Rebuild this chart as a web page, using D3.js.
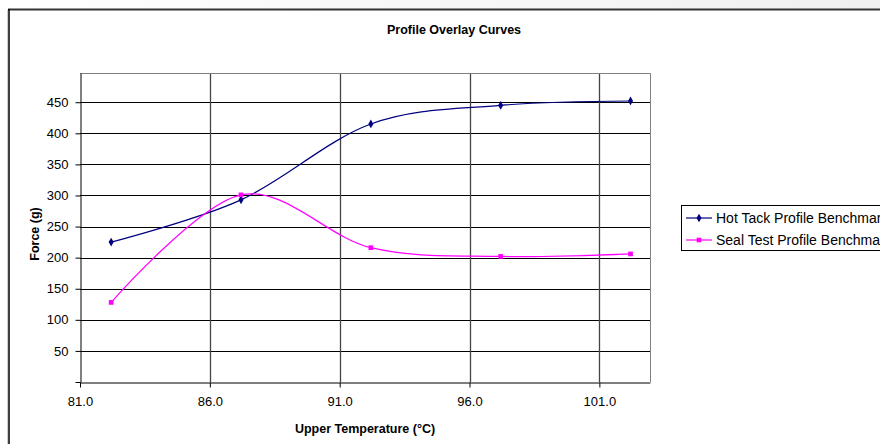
<!DOCTYPE html>
<html>
<head>
<meta charset="utf-8">
<script src="https://cdn.jsdelivr.net/npm/d3@7"></script>
<style>
  body { margin: 0; background: #fff; }
  text { font-family: "Liberation Sans", Arial, sans-serif; }
</style>
</head>
<body>
<svg id="chart"></svg>
<script>
// values
const temps = [82.2, 87.2, 92.2, 97.2, 102.2];
const hotTack = [225, 293, 415, 445, 452];
const sealTest = [128, 301, 216, 202, 206];
const xTicks = [81, 86, 91, 96, 101];
const yTicks = [50, 100, 150, 200, 250, 300, 350, 400, 450];
const seriesNames = ["Hot Tack Profile Benchmark", "Seal Test Profile Benchmark"];

const W = 880, H = 444;
const svg = d3.select("#chart").attr("width", W).attr("height", H);

// faint grey strip above the chart frame
const grad = svg.append("defs").append("linearGradient").attr("id", "topfade");
grad.append("stop").attr("offset", "0%").attr("stop-color", "#ffffff");
grad.append("stop").attr("offset", "100%").attr("stop-color", "#f0f0f0");
svg.append("rect").attr("x", 0).attr("y", 0).attr("width", W).attr("height", 9)
  .attr("fill", "url(#topfade)");

// chart frame
svg.append("line").attr("x1", 8).attr("x2", W).attr("y1", 9.5).attr("y2", 9.5)
  .attr("stroke", "#333").attr("stroke-width", 2);
svg.append("line").attr("x1", 9).attr("x2", 9).attr("y1", 9).attr("y2", H)
  .attr("stroke", "#000").attr("stroke-width", 1.5);
svg.append("line").attr("x1", 7.5).attr("x2", 7.5).attr("y1", 10).attr("y2", H)
  .attr("stroke", "#ccc").attr("stroke-width", 1);

// plot area
const pLeft = 80, pRight = 650, pTop = 73, pBottom = 382;
const x = d3.scaleLinear().domain([81, 102.95]).range([pLeft, pRight]);
const y = d3.scaleLinear().domain([0, 497]).range([pBottom, pTop]);

// grid
svg.append("g").selectAll("line").data(yTicks).join("line")
  .attr("x1", pLeft).attr("x2", pRight)
  .attr("y1", d => Math.round(y(d)) + 0.5).attr("y2", d => Math.round(y(d)) + 0.5)
  .attr("stroke", "#000").attr("stroke-width", 1);
svg.append("g").selectAll("line").data(xTicks.slice(1)).join("line")
  .attr("x1", d => Math.round(x(d)) + 0.5).attr("x2", d => Math.round(x(d)) + 0.5)
  .attr("y1", pTop).attr("y2", pBottom)
  .attr("stroke", "#444").attr("stroke-width", 1.3);

// plot border (top/right)
svg.append("path")
  .attr("d", `M${pLeft},${pTop + 0.5}H${pRight + 0.5}V${pBottom}`)
  .attr("fill", "none").attr("stroke", "#808080").attr("stroke-width", 1);

// axes
const xAxis = d3.axisBottom(x).tickValues(xTicks).tickFormat(d3.format(".1f"))
  .tickSize(5).tickSizeOuter(0);
const gx = svg.append("g").attr("transform", `translate(0,${pBottom + 0.5})`).call(xAxis)
  .attr("font-size", 13).attr("font-family", "Liberation Sans, Arial, sans-serif");
gx.select(".domain").attr("stroke", "#000");
gx.selectAll(".tick line").attr("stroke", "#000");
gx.selectAll(".tick text").attr("fill", "#000").attr("dy", "1.2em");

const yAxis = d3.axisLeft(y).tickValues([0].concat(yTicks)).tickFormat(d => d === 0 ? "" : d)
  .tickSize(5).tickSizeOuter(0);
const gy = svg.append("g").attr("transform", `translate(${pLeft + 0.5},0)`).call(yAxis)
  .attr("font-size", 13).attr("font-family", "Liberation Sans, Arial, sans-serif");
gy.select(".domain").attr("stroke", "#000");
gy.selectAll(".tick line").attr("stroke", "#000");
gy.selectAll(".tick text").attr("fill", "#000").attr("x", -12);

// titles
svg.append("text").attr("x", 454).attr("y", 34).attr("text-anchor", "middle")
  .attr("font-size", 12.5).attr("font-weight", "bold").text("Profile Overlay Curves");
svg.append("text").attr("x", (pLeft + pRight) / 2).attr("y", 433).attr("text-anchor", "middle")
  .attr("font-size", 12.5).attr("font-weight", "bold").text("Upper Temperature (°C)");
svg.append("text").attr("transform", `translate(39,234) rotate(-90)`)
  .attr("text-anchor", "middle").attr("font-size", 12.5).attr("font-weight", "bold")
  .text("Force (g)");

// series
const line = d3.line().x(d => x(d[0])).y(d => y(d[1])).curve(d3.curveCatmullRom.alpha(0));
const series = [
  { name: seriesNames[0], values: hotTack, color: "#000080", symbol: d3.symbolDiamond, size: 22 },
  { name: seriesNames[1], values: sealTest, color: "#FF00FF", symbol: d3.symbolSquare, size: 22 }
];

series.forEach(s => {
  const pts = temps.map((t, i) => [t, s.values[i]]);
  svg.append("path").datum(pts).attr("d", line)
    .attr("fill", "none").attr("stroke", s.color).attr("stroke-width", 1.2);
  svg.append("g").selectAll("path").data(pts).join("path")
    .attr("transform", d => `translate(${x(d[0])},${y(d[1])})`)
    .attr("d", d3.symbol(s.symbol, s.size)).attr("fill", s.color);
});

// legend (runs past the right edge, as in the original)
const legend = svg.append("g");
legend.append("rect").attr("x", 681.5).attr("y", 205.5).attr("width", 240).attr("height", 45)
  .attr("fill", "#fff").attr("stroke", "#000").attr("stroke-width", 1);
series.forEach((s, i) => {
  const ly = 218 + i * 22;
  legend.append("line").attr("x1", 686).attr("x2", 712).attr("y1", ly).attr("y2", ly)
    .attr("stroke", s.color).attr("stroke-width", 1.2);
  legend.append("path").attr("transform", `translate(699,${ly})`)
    .attr("d", d3.symbol(s.symbol, s.size)).attr("fill", s.color);
  legend.append("text").attr("x", 716).attr("y", ly + 5).attr("font-size", 14)
    .text(s.name);
});
</script>
</body>
</html>
